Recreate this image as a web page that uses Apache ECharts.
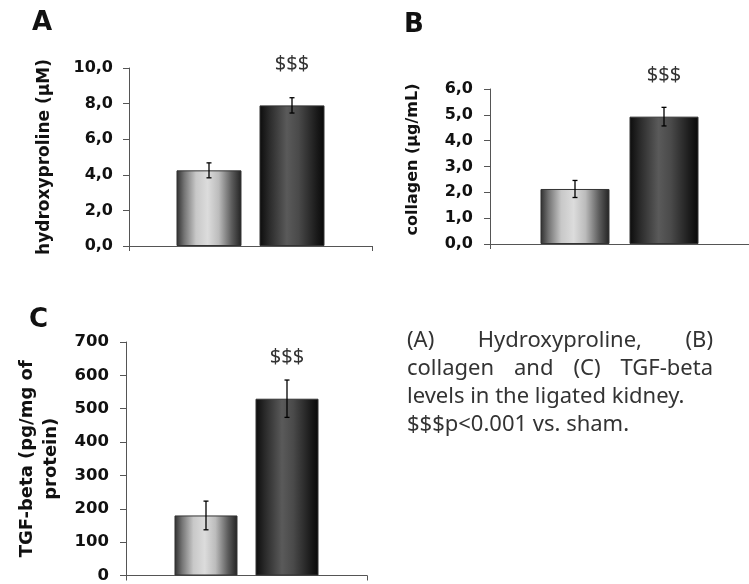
<!DOCTYPE html>
<html>
<head>
<meta charset="utf-8">
<style>html,body{margin:0;padding:0;background:#fff}#c{width:749px;height:584px}</style>
<script src="https://cdn.jsdelivr.net/npm/echarts@6/dist/echarts.min.js"></script>
</head>
<body>
<div id="c"></div>
<script>
// ---- data ----
const groups = ['Sham', 'Ligated'];
const hypMean = [4.25, 7.9];
const hypErr = [0.42, 0.43];
const colMean = [2.13, 4.93];
const colErr = [0.33, 0.36];
const tgfMean = [180, 530];
const tgfErr = [43, 56];
const sigMark = ['', '$$$'];
const hypTicks = {min: 0, max: 10, interval: 2};
const colTicks = {min: 0, max: 6, interval: 1};
const tgfTicks = {min: 0, max: 700, interval: 100};
const captionLines = [
  ['(A)', 'Hydroxyproline,', '(B)'],
  ['collagen', 'and', '(C)', 'TGF-beta'],
  ['levels in the ligated kidney.'],
  ['$$$p<0.001 vs. sham.']
];

// ---- styling ----
const lightGrad = () => new echarts.graphic.LinearGradient(0, 0, 1, 0, [
  {offset: 0, color: '#2e2e2e'}, {offset: 0.12, color: '#747474'},
  {offset: 0.3, color: '#c8c8c8'}, {offset: 0.48, color: '#dcdcdc'},
  {offset: 0.65, color: '#bcbcbc'}, {offset: 0.85, color: '#5c5c5c'},
  {offset: 1, color: '#222'}]);
const darkGrad = () => new echarts.graphic.LinearGradient(0, 0, 1, 0, [
  {offset: 0, color: '#0c0c0c'}, {offset: 0.15, color: '#2a2a2a'},
  {offset: 0.42, color: '#5a5a5a'}, {offset: 0.6, color: '#4a4a4a'},
  {offset: 0.88, color: '#1a1a1a'}, {offset: 1, color: '#080808'}]);

const AX_FONT = '"DejaVu Sans", "Liberation Sans", Arial';
const panels = [
  {grid: {left: 129, top: 68, width: 243, height: 178}, ticks: hypTicks, mean: hypMean, err: hypErr,
   name: 'hydroxyproline (µM)', fmt: v => v.toFixed(1).replace('.', ','), bw: 65, gap: 18,
   fs: 16, nfs: 17, nlh: 20, nameGap: 74, namePad: [0, 0, 0, 0], margin: 16},
  {grid: {left: 490, top: 89, width: 260, height: 155}, ticks: colTicks, mean: colMean, err: colErr,
   name: 'collagen (µg/mL)', fmt: v => v.toFixed(1).replace('.', ','), bw: 69, gap: 20,
   fs: 16, nfs: 16, nlh: 19, nameGap: 68, namePad: [0, 0, 0, 14], margin: 17},
  {grid: {left: 126, top: 342, width: 241, height: 234}, ticks: tgfTicks, mean: tgfMean, err: tgfErr,
   name: 'TGF-beta (pg/mg of\nprotein)', fmt: v => String(v), bw: 63, gap: 18,
   fs: 16.5, nfs: 18, nlh: 24, nameGap: 63, namePad: [0, 0, 0, 0], margin: 17}
];

const grid = [], xAxis = [], yAxis = [], series = [];
panels.forEach((p, i) => {
  grid.push(p.grid);
  xAxis.push({type: 'category', gridIndex: i, data: [''],
    axisLine: {lineStyle: {color: '#555', width: 1}},
    axisTick: {show: true, length: 5, lineStyle: {color: '#555'}},
    axisLabel: {show: false}});
  yAxis.push({type: 'value', gridIndex: i, min: p.ticks.min, max: p.ticks.max, interval: p.ticks.interval,
    axisLine: {show: true, lineStyle: {color: '#555', width: 1}},
    axisTick: {show: true, length: 6, lineStyle: {color: '#555'}},
    splitLine: {show: false},
    axisLabel: {formatter: p.fmt, fontFamily: AX_FONT, fontWeight: 'bold', fontSize: p.fs, color: '#111', margin: p.margin},
    name: p.name, nameLocation: 'middle', nameGap: p.nameGap, nameRotate: 90,
    nameTextStyle: {fontFamily: AX_FONT, fontWeight: 'bold', fontSize: p.nfs, color: '#111',
      lineHeight: p.nlh, padding: p.namePad}});
  groups.forEach((g, k) => {
    series.push({type: 'bar', name: g, xAxisIndex: i, yAxisIndex: i, barWidth: p.bw,
      barGap: (p.gap / p.bw * 100).toFixed(1) + '%',
      data: [p.mean[k]],
      itemStyle: {color: k === 0 ? lightGrad() : darkGrad(), borderColor: '#333', borderWidth: 1},
      label: {show: !!sigMark[k], position: 'top', distance: 31, formatter: sigMark[k] || '',
        fontFamily: 'Noto Sans', fontSize: 20, color: '#333'},
      z: 2, silent: true});
  });
  series.push({type: 'custom', xAxisIndex: i, yAxisIndex: i, z: 5, silent: true,
    data: groups.map((g, k) => [0, p.mean[k], p.err[k], k]),
    renderItem: (params, api) => {
      const m = api.value(1), e = api.value(2), k = api.value(3);
      const c = api.coord([0, m]);
      const x = c[0] + (k - 0.5) * (p.bw + p.gap);
      const top = api.coord([0, m + e])[1], bot = api.coord([0, m - e])[1];
      const st = {stroke: '#000', lineWidth: 1.3};
      return {type: 'group', children: [
        {type: 'line', shape: {x1: x, y1: top, x2: x, y2: bot}, style: st},
        {type: 'line', shape: {x1: x - 2.5, y1: top, x2: x + 2.5, y2: top}, style: st},
        {type: 'line', shape: {x1: x - 2.5, y1: bot, x2: x + 2.5, y2: bot}, style: st}
      ]};
    }});
});

// caption layout (justified words)
const ctx = document.createElement('canvas').getContext('2d');
const capFont = '22px "Noto Sans"';
ctx.font = capFont;
const capLeft = 407, capRight = 713, capTop = 341, capLH = 28;
const letterFont = 'bold 26px "DejaVu Sans", "Liberation Sans", Arial';
const graphic = [
  {type: 'text', x: 32, y: 23, style: {text: 'A', font: letterFont, fill: '#111', verticalAlign: 'middle'}},
  {type: 'text', x: 404, y: 25, style: {text: 'B', font: letterFont, fill: '#111', verticalAlign: 'middle'}},
  {type: 'text', x: 29, y: 320, style: {text: 'C', font: letterFont, fill: '#111', verticalAlign: 'middle'}}
];
captionLines.forEach((words, li) => {
  const y = capTop + li * capLH;
  if (words.length === 1) {
    graphic.push({type: 'text', x: capLeft, y: y, style: {text: words[0], font: capFont, fill: '#333', verticalAlign: 'middle'}});
    return;
  }
  const widths = words.map(w => ctx.measureText(w).width);
  const total = widths.reduce((a, b) => a + b, 0);
  const space = (capRight - capLeft - total) / (words.length - 1);
  let x = capLeft;
  words.forEach((w, wi) => {
    graphic.push({type: 'text', x: x, y: y, style: {text: w, font: capFont, fill: '#333', verticalAlign: 'middle'}});
    x += widths[wi] + space;
  });
});

const chart = echarts.init(document.getElementById('c'), null, {renderer: 'canvas'});
chart.setOption({animation: false, backgroundColor: '#fff', grid, xAxis, yAxis, series, graphic});
</script>
</body>
</html>
